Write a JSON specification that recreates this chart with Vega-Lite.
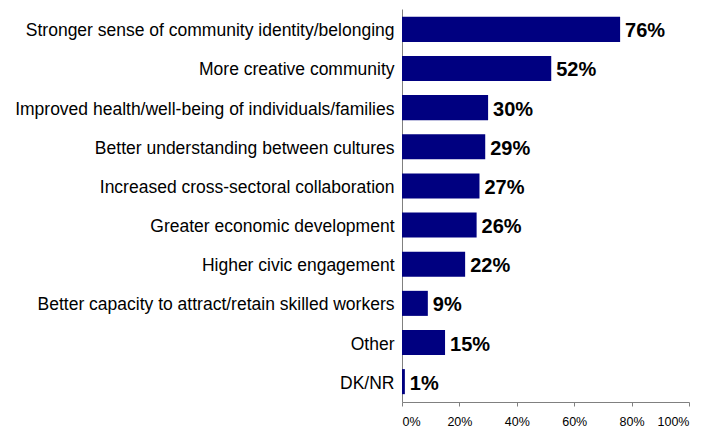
{
  "$schema": "https://vega.github.io/schema/vega-lite/v6.json",
  "autosize": "none",
  "width": 287,
  "height": 393,
  "padding": {"left": 402, "top": 9, "right": 20, "bottom": 26},
  "background": "white",
  "config": {
    "view": {"stroke": null},
    "font": "Liberation Sans"
  },
  "data": {
    "values": [
      {"item": "Stronger sense of community identity/belonging", "pct": 0.76},
      {"item": "More creative community", "pct": 0.52},
      {"item": "Improved health/well-being of individuals/families", "pct": 0.30},
      {"item": "Better understanding between cultures", "pct": 0.29},
      {"item": "Increased cross-sectoral collaboration", "pct": 0.27},
      {"item": "Greater economic development", "pct": 0.26},
      {"item": "Higher civic engagement", "pct": 0.22},
      {"item": "Better capacity to attract/retain skilled workers", "pct": 0.09},
      {"item": "Other", "pct": 0.15},
      {"item": "DK/NR", "pct": 0.01}
    ]
  },
  "encoding": {
    "y": {
      "field": "item",
      "type": "nominal",
      "sort": null,
      "scale": {"paddingInner": 0.36, "paddingOuter": 0.2},
      "axis": {
        "title": null,
        "ticks": false,
        "labelFontSize": 17.5,
        "labelColor": "#000000",
        "labelPadding": 8,
        "labelLimit": 500,
        "labelBaseline": "middle",
        "labelOffset": 2,
        "domainColor": "#808080",
        "domainWidth": 1
      }
    },
    "x": {
      "field": "pct",
      "type": "quantitative",
      "scale": {"domain": [0, 1]},
      "axis": {
        "title": null,
        "values": [0, 0.2, 0.4, 0.6, 0.8, 1],
        "format": ".0%",
        "grid": false,
        "tickSize": 4,
        "tickColor": "#808080",
        "domainColor": "#808080",
        "labelFontSize": 12.5,
        "labelColor": "#000000",
        "labelPadding": 9
      }
    }
  },
  "layer": [
    {"mark": {"type": "bar", "color": "#000080"}},
    {
      "mark": {"type": "text", "align": "left", "dx": 5, "dy": 2, "fontSize": 20, "fontWeight": "bold", "color": "#000000"},
      "encoding": {"text": {"field": "pct", "type": "quantitative", "format": ".0%"}}
    }
  ]
}
